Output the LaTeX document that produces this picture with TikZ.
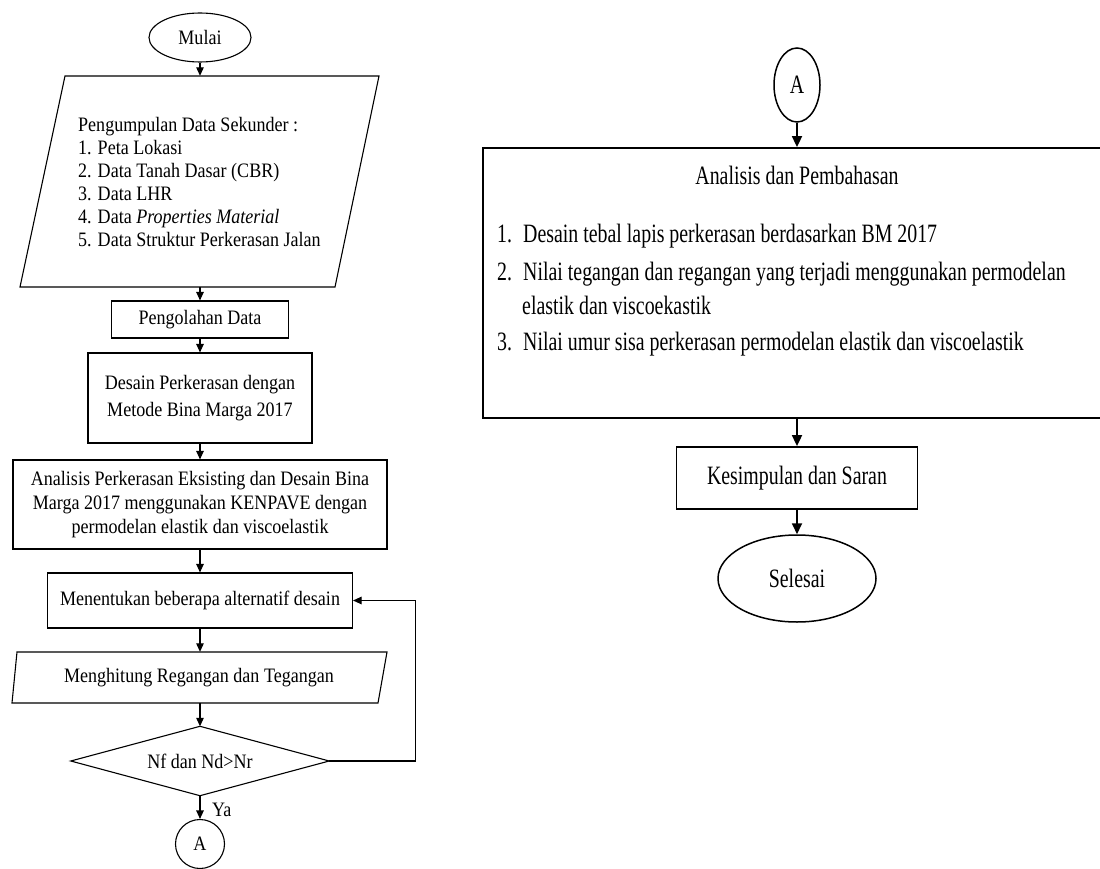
\documentclass[tikz,border=0pt]{standalone}
\usepackage{fontspec}
\setmainfont{Liberation Serif}
\newfontfamily\lfont[FakeStretch=0.88]{Liberation Serif}
\newfontfamily\rfont[FakeStretch=0.75]{Liberation Serif}
\usetikzlibrary{shapes.geometric,arrows.meta}
\begin{document}
\begin{tikzpicture}[x=1pt,y=-1pt,
  lt/.style={font=\lfont\fontsize{20.5}{23.5}\selectfont, inner sep=0pt, text=black},
  rt/.style={font=\rfont\fontsize{26.5}{36}\selectfont, inner sep=0pt, text=black},
  lline/.style={draw=black, line width=1.1pt},
  rline/.style={draw=black, line width=1.8pt},
  lbox/.style={lt, lline, rectangle, align=center},
  rbox/.style={rt, rline, rectangle, align=center},
  hidden/.style={rectangle, draw=none, inner sep=0pt},
  larr/.style={lline, -{Triangle[length=8.5pt,width=7.5pt]}},
  rarr/.style={rline, -{Triangle[length=11pt,width=10pt]}}
]
\clip (0,0) rectangle (1100,869);
\fill[white] (0,0) rectangle (1100,869);

% ---------------- left column ----------------
\node[lt, lline, ellipse, minimum width=102pt, minimum height=49pt] (mulai) at (200,37.5) {Mulai};

\node[hidden, minimum width=359pt, minimum height=211pt] (p1) at (200,181.5) {};
\draw[lline] (65,76) -- (379,76) -- (335,287) -- (20,287) -- cycle;
\node[lt, anchor=west, align=left, font=\lfont\fontsize{20.5}{23}\selectfont] (p1t) at (78,182.5)
  {Pengumpulan Data Sekunder :\\1. Peta Lokasi\\2. Data Tanah Dasar (CBR)\\3. Data LHR\\4. Data \textit{Properties Material}\\5. Data Struktur Perkerasan Jalan};

\node[lbox, minimum width=177pt, minimum height=37pt] (olah) at (200,319.5) {Pengolahan Data};
\node[lbox, minimum width=224pt, minimum height=90pt, font=\lfont\fontsize{20.5}{27}\selectfont] (des) at (200,398)
  {Desain Perkerasan dengan\\Metode Bina Marga 2017};
\node[lbox, minimum width=374pt, minimum height=89pt, font=\lfont\fontsize{20.5}{24}\selectfont] (ana) at (200,504.5)
  {Analisis Perkerasan Eksisting dan Desain Bina\\Marga 2017 menggunakan KENPAVE dengan\\permodelan elastik dan viscoelastik};
\node[lbox, minimum width=305pt, minimum height=55pt] (men) at (200,600.5) {Menentukan beberapa alternatif desain};

\node[hidden, minimum width=375pt, minimum height=51pt] (hit) at (200,677.5) {};
\draw[lline] (17,652) -- (387,652) -- (378,703) -- (12,703) -- cycle;
\node[lt] (hitt) at (199,677.5) {Menghitung Regangan dan Tegangan};

\node[hidden, minimum width=258pt, minimum height=69pt] (dia) at (200,761) {};
\draw[lline] (dia.north) -- (dia.east) -- (dia.south) -- (dia.west) -- cycle;
\node[lt] (diat) at (200,761) {Nf dan Nd>Nr};
\node[lt, lline, circle, minimum size=49pt] (cA) at (200,844) {A};
\node[lt, anchor=west] (ya) at (212,810) {Ya};

\draw[larr] (mulai) -- (p1);
\draw[larr] (p1) -- (olah);
\draw[larr] (olah) -- (des);
\draw[larr] (des) -- (ana);
\draw[larr] (ana) -- (men);
\draw[larr] (men) -- (hit);
\draw[larr] (hit) -- (dia);
\draw[larr] (dia) -- (cA);
\draw[larr] (dia.east) -- ++(86,0) |- (men.east);

% ---------------- right column ----------------
\node[rt, draw=black, line width=1.5pt, ellipse, minimum width=46pt, minimum height=74pt] (aR) at (797,85) {A};
\node[rline, rectangle, minimum width=628pt, minimum height=270pt] (box) at (797,283) {};
\node[rt, anchor=base] (ttl) at (797,185) {Analisis dan Pembahasan};
\node[rt, anchor=base west] (i1) at (497,243) {\makebox[26pt][l]{1.}Desain tebal lapis perkerasan berdasarkan BM 2017};
\node[rt, anchor=base west] (i2) at (497,280) {\makebox[26pt][l]{2.}Nilai tegangan dan regangan yang terjadi menggunakan permodelan};
\node[rt, anchor=base west] (i2b) at (522,314) {elastik dan viscoekastik};
\node[rt, anchor=base west] (i3) at (497,350) {\makebox[26pt][l]{3.}Nilai umur sisa perkerasan permodelan elastik dan viscoelastik};

\node[rbox, minimum width=241pt, minimum height=62pt] (kes) at (797,478) {Kesimpulan dan Saran};
\node[rt, draw=black, line width=1.5pt, ellipse, minimum width=158pt, minimum height=87pt] (sel) at (797,578.5) {Selesai};

\draw[rarr] (aR.south) -- (aR.south |- box.north);
\draw[rarr] (box.south) -- (kes.north);
\draw[rarr] (kes) -- (sel);
\end{tikzpicture}
\end{document}
